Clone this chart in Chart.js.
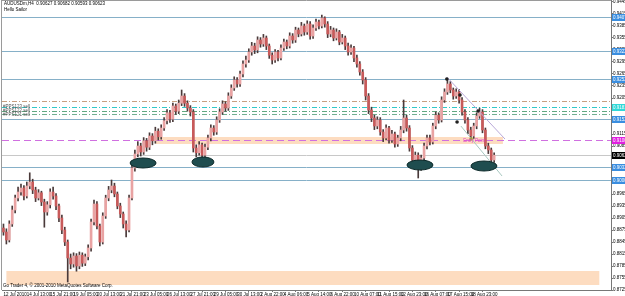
<!DOCTYPE html>
<html><head><meta charset="utf-8">
<script src="https://cdn.jsdelivr.net/npm/chart.js@4.4.0/dist/chart.umd.min.js"></script>
<style>
html,body{margin:0;padding:0;background:#fff;overflow:hidden}
</style></head><body>
<canvas id="c" width="625" height="296"></canvas>
<script>
// AUDUSD H4 bars, 12 Jul - 19 Aug 2010
const opens = [
0.8880,0.8870,0.8850,0.8890,0.8925,0.8955,0.8970,0.8980,0.8960,0.8985,
0.8995,0.8975,0.8955,0.8968,0.8945,0.8920,0.8938,0.8970,0.8960,0.8935,
0.8905,0.8875,0.8845,0.8805,0.8790,0.8810,0.8785,0.8812,0.8792,0.8808,
0.8830,0.8895,0.8940,0.8885,0.8845,0.8910,0.8955,0.8975,0.8985,0.8965,
0.8935,0.8915,0.8890,0.8875,0.8955,0.9030,0.9065,0.9085,0.9070,0.9098,
0.9082,0.9110,0.9098,0.9122,0.9108,0.9130,0.9148,0.9168,0.9152,0.9185,
0.9172,0.9192,0.9210,0.9192,0.9180,0.9170,0.9080,0.9068,0.9088,0.9062,
0.9082,0.9105,0.9130,0.9120,0.9150,0.9170,0.9190,0.9180,0.9210,0.9230,
0.9250,0.9240,0.9265,0.9290,0.9300,0.9320,0.9335,0.9325,0.9350,0.9340,
0.9355,0.9335,0.9312,0.9300,0.9320,0.9305,0.9330,0.9345,0.9335,0.9360,
0.9350,0.9375,0.9365,0.9385,0.9370,0.9390,0.9360,0.9380,0.9395,0.9385,
0.9405,0.9390,0.9365,0.9375,0.9355,0.9370,0.9345,0.9355,0.9335,0.9320,
0.9330,0.9305,0.9290,0.9270,0.9250,0.9210,0.9175,0.9155,0.9135,0.9150,
0.9120,0.9105,0.9130,0.9100,0.9115,0.9090,0.9105,0.9125,0.9155,0.9130,
0.9080,0.9050,0.9062,0.9030,0.9055,0.9085,0.9105,0.9095,0.9135,0.9162,
0.9150,0.9200,0.9220,0.9240,0.9225,0.9210,0.9220,0.9200,0.9170,0.9150,
0.9125,0.9110,0.9135,0.9160,0.9170,0.9125,0.9085,0.9075,0.9050];
const highs = [
0.8890,0.8878,0.8898,0.8935,0.8962,0.8982,0.8990,0.8986,0.8995,0.9018,
0.9002,0.8982,0.8976,0.8972,0.8952,0.8946,0.8978,0.8982,0.8966,0.8940,
0.8912,0.8882,0.8850,0.8815,0.8818,0.8816,0.8820,0.8818,0.8815,0.8838,
0.8902,0.8950,0.8946,0.8890,0.8918,0.8962,0.8984,0.9000,0.8992,0.8970,
0.8942,0.8920,0.8898,0.8962,0.9038,0.9075,0.9096,0.9092,0.9106,0.9104,
0.9118,0.9116,0.9132,0.9128,0.9138,0.9156,0.9176,0.9174,0.9192,0.9190,
0.9200,0.9225,0.9216,0.9198,0.9186,0.9176,0.9088,0.9096,0.9092,0.9090,
0.9112,0.9138,0.9136,0.9158,0.9178,0.9198,0.9196,0.9218,0.9238,0.9258,
0.9256,0.9272,0.9298,0.9310,0.9328,0.9344,0.9342,0.9358,0.9356,0.9364,
0.9360,0.9340,0.9318,0.9326,0.9324,0.9338,0.9352,0.9350,0.9368,0.9366,
0.9382,0.9380,0.9394,0.9390,0.9398,0.9396,0.9388,0.9402,0.9400,0.9412,
0.9408,0.9396,0.9384,0.9380,0.9378,0.9374,0.9364,0.9360,0.9342,0.9338,
0.9334,0.9312,0.9296,0.9276,0.9256,0.9216,0.9182,0.9162,0.9158,0.9156,
0.9126,0.9138,0.9134,0.9124,0.9120,0.9112,0.9134,0.9200,0.9162,0.9136,
0.9086,0.9070,0.9068,0.9062,0.9092,0.9112,0.9112,0.9142,0.9170,0.9168,
0.9208,0.9228,0.9252,0.9246,0.9230,0.9228,0.9226,0.9206,0.9176,0.9156,
0.9132,0.9142,0.9168,0.9180,0.9176,0.9130,0.9092,0.9080,0.9068];
const lows = [
0.8862,0.8840,0.8845,0.8884,0.8918,0.8948,0.8962,0.8950,0.8955,0.8978,
0.8966,0.8946,0.8950,0.8936,0.8882,0.8912,0.8930,0.8952,0.8926,0.8896,
0.8866,0.8836,0.8745,0.8778,0.8782,0.8772,0.8778,0.8784,0.8786,0.8800,
0.8822,0.8888,0.8878,0.8835,0.8840,0.8904,0.8948,0.8968,0.8958,0.8928,
0.8906,0.8880,0.8858,0.8870,0.8950,0.9022,0.9058,0.9060,0.9064,0.9072,
0.9076,0.9088,0.9092,0.9100,0.9102,0.9124,0.9140,0.9144,0.9146,0.9164,
0.9166,0.9186,0.9184,0.9172,0.9160,0.9070,0.9058,0.9062,0.9045,0.9056,
0.9076,0.9098,0.9112,0.9114,0.9144,0.9164,0.9172,0.9174,0.9204,0.9224,
0.9232,0.9234,0.9258,0.9282,0.9294,0.9312,0.9316,0.9318,0.9332,0.9334,
0.9326,0.9304,0.9290,0.9294,0.9298,0.9300,0.9324,0.9328,0.9330,0.9342,
0.9344,0.9358,0.9360,0.9362,0.9364,0.9352,0.9354,0.9374,0.9378,0.9380,
0.9382,0.9356,0.9358,0.9348,0.9350,0.9338,0.9340,0.9326,0.9312,0.9314,
0.9296,0.9282,0.9262,0.9240,0.9200,0.9166,0.9146,0.9126,0.9128,0.9112,
0.9096,0.9100,0.9092,0.9094,0.9082,0.9084,0.9098,0.9118,0.9122,0.9072,
0.9042,0.9044,0.9005,0.9024,0.9048,0.9078,0.9088,0.9090,0.9128,0.9142,
0.9145,0.9194,0.9214,0.9218,0.9202,0.9204,0.9192,0.9162,0.9142,0.9116,
0.9102,0.9104,0.9128,0.9154,0.9118,0.9078,0.9066,0.9040,0.9044];
const closes = [
0.8870,0.8850,0.8890,0.8925,0.8955,0.8970,0.8980,0.8960,0.8985,0.8995,
0.8975,0.8955,0.8968,0.8945,0.8920,0.8938,0.8970,0.8960,0.8935,0.8905,
0.8875,0.8845,0.8805,0.8790,0.8810,0.8785,0.8812,0.8792,0.8808,0.8830,
0.8895,0.8940,0.8885,0.8845,0.8910,0.8955,0.8975,0.8985,0.8965,0.8935,
0.8915,0.8890,0.8875,0.8955,0.9030,0.9065,0.9085,0.9070,0.9098,0.9082,
0.9110,0.9098,0.9122,0.9108,0.9130,0.9148,0.9168,0.9152,0.9185,0.9172,
0.9192,0.9210,0.9192,0.9180,0.9170,0.9080,0.9068,0.9088,0.9062,0.9082,
0.9105,0.9130,0.9120,0.9150,0.9170,0.9190,0.9180,0.9210,0.9230,0.9250,
0.9240,0.9265,0.9290,0.9300,0.9320,0.9335,0.9325,0.9350,0.9340,0.9355,
0.9335,0.9312,0.9300,0.9320,0.9305,0.9330,0.9345,0.9335,0.9360,0.9350,
0.9375,0.9365,0.9385,0.9370,0.9390,0.9360,0.9380,0.9395,0.9385,0.9405,
0.9390,0.9365,0.9375,0.9355,0.9370,0.9345,0.9355,0.9335,0.9320,0.9330,
0.9305,0.9290,0.9270,0.9250,0.9210,0.9175,0.9155,0.9135,0.9150,0.9120,
0.9105,0.9130,0.9100,0.9115,0.9090,0.9105,0.9125,0.9155,0.9130,0.9080,
0.9050,0.9062,0.9030,0.9055,0.9085,0.9105,0.9095,0.9135,0.9162,0.9150,
0.9200,0.9220,0.9240,0.9225,0.9210,0.9220,0.9200,0.9170,0.9150,0.9125,
0.9110,0.9135,0.9160,0.9170,0.9125,0.9085,0.9075,0.9050,0.9062];

const timeLabels = ["12 Jul 2010","14 Jul 13:00","15 Jul 21:00","19 Jul 05:00","20 Jul 13:00","21 Jul 21:00",
  "23 Jul 05:00","26 Jul 13:00","27 Jul 21:00","29 Jul 05:00","30 Jul 13:00","2 Aug 22:00","4 Aug 06:00",
  "5 Aug 14:00","6 Aug 22:00","10 Aug 07:00","11 Aug 15:00","12 Aug 23:00","16 Aug 07:00","17 Aug 15:00","18 Aug 23:00"];
const priceTicks = [0.8725,0.8755,0.8785,0.8815,0.8845,0.8875,0.8905,0.8935,0.8965,0.8995,0.9025,0.9055,
  0.9085,0.9115,0.9145,0.9175,0.9205,0.9235,0.9265,0.9295,0.9325,0.9355,0.9385,0.9415,0.9445];

// horizontal levels drawn on the chart
const levelPrices = [0.94075,0.93225,0.92525,0.91975,0.91813,0.91725,0.91650,0.91525,0.91000,0.90623,0.90325,0.90000];
// zones [fromBar, toBar, high, low]
const zoneFrom = [52, 1];
const zoneTo = [171, 204];
const zoneHigh = [0.91075, 0.87725];
const zoneLow = [0.90900, 0.87375];
// marked lows (ellipses)
const markBar = [47.8, 68.3, 142.6, 164.5];
const markPrice = [0.90425, 0.90450, 0.90375, 0.90350];
// trend lines
const trendStartBar = [151.8, 156.6];
const trendStartPrice = [0.92575, 0.91350];
const trendEndBar = [171.7, 170.7];
const trendEndPrice = [0.91025, 0.90100];
// swing points
const dotBar = [151.8, 156.3, 155.3, 162.5, 160.1];
const dotPrice = [0.92525, 0.92125, 0.91450, 0.91725, 0.91025];

const levelStyle = [
  {c:'#86b0c8', d:[]}, {c:'#86b0c8', d:[]}, {c:'#86b0c8', d:[]},
  {c:'#c8a080', d:[5,2,1,2]}, {c:'#30c8c8', d:[5,2,1,2]}, {c:'#60a880', d:[5,2,1,2]}, {c:'#70b090', d:[5,2,1,2]},
  {c:'#86b0c8', d:[]}, {c:'#d070e0', d:[7,4]}, {c:'#c8c8c8', d:[]}, {c:'#86b0c8', d:[]}, {c:'#86b0c8', d:[]}
];
const axisBox = ['#3a8ee0','#3a8ee0','#3a8ee0',null,'#30d8d8',null,null,'#3a8ee0','#e020e0','#000000','#3a8ee0','#3a8ee0'];
const FONT = "4.5px 'Liberation Sans'";

const overlay = {
  id: 'overlay',
  beforeDatasetsDraw(chart) {
    const {ctx, chartArea: a, scales: {x, y}} = chart;
    ctx.save();
    ctx.beginPath(); ctx.rect(a.left, a.top, a.right - a.left, a.bottom - a.top); ctx.clip();
    ctx.fillStyle = '#fddcc0';
    zoneFrom.forEach((f, i) => {
      const x1 = x.getPixelForValue(f), x2 = x.getPixelForValue(zoneTo[i]);
      const y1 = y.getPixelForValue(zoneHigh[i]), y2 = y.getPixelForValue(zoneLow[i]);
      ctx.fillRect(x1, y1, x2 - x1, y2 - y1);
    });
    levelPrices.forEach((p, i) => {
      const py = Math.round(y.getPixelForValue(p)) + 0.5;
      ctx.strokeStyle = levelStyle[i].c; ctx.setLineDash(levelStyle[i].d); ctx.lineWidth = 1;
      ctx.beginPath(); ctx.moveTo(a.left, py); ctx.lineTo(a.right, py); ctx.stroke();
    });
    ctx.restore();
  },
  afterDatasetsDraw(chart) {
    const {ctx, chartArea: a, scales: {x, y}} = chart;
    ctx.save();
    ctx.setLineDash([]);
    // trend lines
    const tc = ['#b8a8d8', '#a8c8c0'];
    trendStartBar.forEach((b, i) => {
      ctx.strokeStyle = tc[i]; ctx.lineWidth = 1;
      ctx.beginPath();
      ctx.moveTo(x.getPixelForValue(b), y.getPixelForValue(trendStartPrice[i]));
      ctx.lineTo(x.getPixelForValue(trendEndBar[i]), y.getPixelForValue(trendEndPrice[i]));
      ctx.stroke();
    });
    // ellipses
    markBar.forEach((b, i) => {
      ctx.fillStyle = '#1f4d4f'; ctx.strokeStyle = '#0d2a2a';
      ctx.beginPath();
      ctx.ellipse(x.getPixelForValue(b), y.getPixelForValue(markPrice[i]), i === 1 ? 11 : 13, 5, 0, 0, Math.PI * 2);
      ctx.fill(); ctx.stroke();
    });
    // dots
    dotBar.forEach((b, i) => {
      ctx.fillStyle = i === 4 ? '#a0a040' : '#202020';
      ctx.beginPath();
      ctx.arc(x.getPixelForValue(b), y.getPixelForValue(dotPrice[i]), 1.8, 0, Math.PI * 2);
      ctx.fill();
    });
    ctx.font = FONT; ctx.fillStyle = '#e040c0'; ctx.textBaseline = 'middle';
    ctx.fillText('Entry Point', x.getPixelForValue(157.4), y.getPixelForValue(0.90975));
    ctx.restore();
  },
  afterDraw(chart) {
    const {ctx, chartArea: a, scales: {y}} = chart;
    ctx.save();
    ctx.strokeStyle = '#9a9a9a'; ctx.lineWidth = 1;
    ctx.beginPath(); ctx.moveTo(a.left - 0.5, a.top); ctx.lineTo(a.left - 0.5, a.bottom); ctx.stroke();
    ctx.beginPath(); ctx.moveTo(a.left, a.top + 0.5); ctx.lineTo(a.right, a.top + 0.5); ctx.stroke();
    ctx.font = FONT; ctx.textBaseline = 'middle';
    levelPrices.forEach((p, i) => {
      if (!axisBox[i]) return;
      const py = Math.round(y.getPixelForValue(p));
      ctx.fillStyle = axisBox[i];
      ctx.fillRect(a.right + 1, py - 3, 20, 7);
      ctx.fillStyle = '#fff';
      ctx.fillText(p.toFixed(5), a.right + 2, py + 0.5);
    });
    ctx.fillStyle = '#000'; ctx.textBaseline = 'top';
    ctx.fillText('AUDUSDm,H4  0.90627 0.90682 0.90593 0.90623', a.left + 2, 2);
    ctx.fillText('Hello Sailor', a.left + 2, 8);
    ctx.fillText('Go Trader 4, \u00a9 2001-2010 MetaQuotes Software Corp.', a.left + 1, a.bottom - 6);
    ctx.fillStyle = '#555';
    ctx.fillText('#PPS123 sell', a.left + 1, y.getPixelForValue(0.91813) - 3);
    ctx.fillText('#PPS122 sell', a.left + 1, y.getPixelForValue(0.91725) - 2);
    ctx.fillText('#PPS121 sell', a.left + 1, y.getPixelForValue(0.91650) - 1);
    ctx.restore();
  }
};

const bodyColors = opens.map((o, i) => closes[i] >= o ? '#e9a3a3' : '#c85a5a');

new Chart(document.getElementById('c'), {
  type: 'bar',
  data: {
    datasets: [
      {
        data: highs.map((h, i) => ({x: i, y: [lows[i], h]})),
        backgroundColor: '#4a3a3a',
        barThickness: 1,
        grouped: false,
        order: 2
      },
      {
        data: opens.map((o, i) => ({x: i, y: [o, closes[i]]})),
        backgroundColor: bodyColors,
        barThickness: 2,
        minBarLength: 1,
        grouped: false,
        order: 1
      }
    ]
  },
  options: {
    responsive: false,
    animation: false,
    layout: {padding: {left: 2, top: 0, right: 0, bottom: 0}},
    plugins: {legend: {display: false}, tooltip: {enabled: false}},
    scales: {
      x: {
        type: 'linear', min: -0.5, max: 208, offset: false,
        grid: {drawOnChartArea: false, drawTicks: true, tickLength: 2, color: '#777'},
        border: {color: '#777'},
        ticks: {
          font: {size: 4.5, family: 'Liberation Sans'}, color: '#000', padding: 0, align: 'start', maxRotation: 0, autoSkip: false,
          callback: (v) => timeLabels[Math.round(v / 8)]
        },
        afterBuildTicks: s => { s.ticks = timeLabels.map((t, k) => ({value: k * 8})); },
        afterFit: s => { s.height = 6; s.paddingLeft = 0; s.paddingRight = 0; }
      },
      y: {
        position: 'right', min: 0.8725, max: 0.9450,
        grid: {drawOnChartArea: false, drawTicks: true, tickLength: 2, color: '#777'},
        border: {color: '#777'},
        ticks: {
          font: {size: 4.5, family: 'Liberation Sans'}, color: '#000', padding: 0, autoSkip: false,
          callback: v => v.toFixed(5)
        },
        afterBuildTicks: s => { s.ticks = priceTicks.map(v => ({value: v})); },
        afterFit: s => { s.width = 14; s.paddingTop = 0; s.paddingBottom = 0; }
      }
    }
  },
  plugins: [overlay]
});
</script>
</body></html>
